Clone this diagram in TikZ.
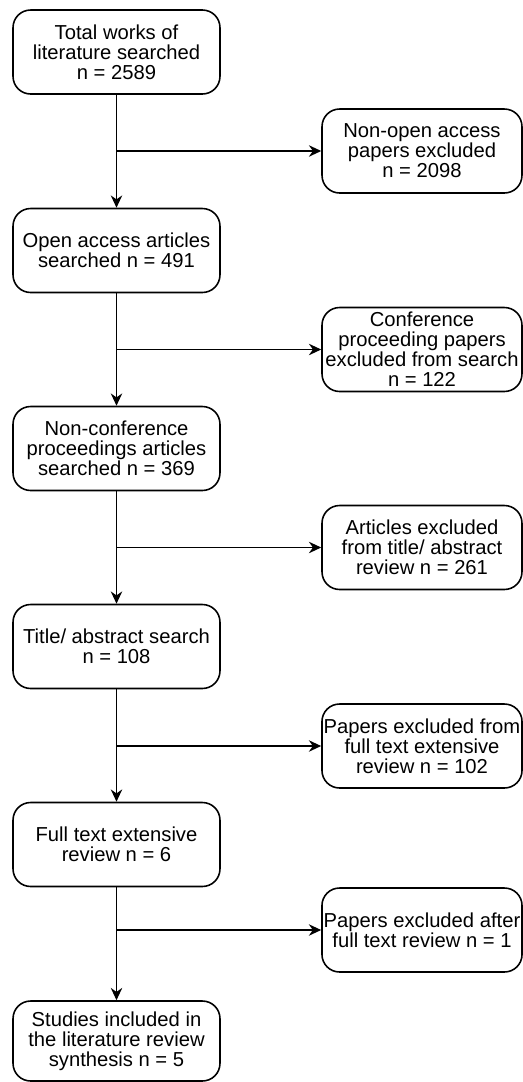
\documentclass[tikz,border=0pt]{standalone}
\usepackage{fontspec}
\setmainfont{Liberation Sans}
\usetikzlibrary{arrows.meta}
\tikzset{
  stage/.style={draw, rounded corners=10pt, line width=0.9pt, align=center,
    minimum width=4.14cm, minimum height=1.68cm, inner sep=1pt,
    font=\fontsize{11.5}{11.4}\selectfont},
  dropped/.style={stage, minimum width=4cm},
  flow/.style={line width=0.9pt, -{Stealth[length=7pt, width=6.5pt]}}
}
\begin{document}
\begin{tikzpicture}[x=0.02cm, y=-0.02cm]
\useasboundingbox (0,0) rectangle (523,1082);
% main stages
\node[stage] (total) at (116.5,52) {Total works of\\literature searched\\n = 2589};
\node[stage] (open) at (116.5,250.5) {Open access articles\\searched n = 491};
\node[stage] (nonconf) at (116.5,448.5) {Non-conference\\proceedings articles\\searched n = 369};
\node[stage] (title) at (116.5,646.5) {Title/ abstract search\\n = 108};
\node[stage] (full) at (116.5,844.5) {Full text extensive\\review n = 6};
\node[stage, minimum height=1.6cm] (incl) at (116.5,1041) {Studies included in\\the literature review\\synthesis n = 5};
% exclusions
\node[dropped] (exnonopen) at (422,151) {Non-open access\\papers excluded\\n = 2098};
\node[dropped] (exconf) at (422,349.5) {Conference\\proceeding papers\\excluded from search\\n = 122};
\node[dropped] (extitle) at (422,547.5) {Articles excluded\\from title/ abstract\\review n = 261};
\node[dropped] (exfull) at (422,746) {Papers excluded from\\full text extensive\\review n = 102};
\node[dropped] (exafter) at (422,930) {Papers excluded after\\full text review n = 1};
% connectors
\draw[flow] (total) -- (open);
\draw[flow] (open) -- (nonconf);
\draw[flow] (nonconf) -- (title);
\draw[flow] (title) -- (full);
\draw[flow] (full) -- (incl);
\draw[flow] (total.south |- exnonopen.west) -- (exnonopen.west);
\draw[flow] (open.south |- exconf.west) -- (exconf.west);
\draw[flow] (nonconf.south |- extitle.west) -- (extitle.west);
\draw[flow] (title.south |- exfull.west) -- (exfull.west);
\draw[flow] (full.south |- exafter.west) -- (exafter.west);
\end{tikzpicture}
\end{document}
